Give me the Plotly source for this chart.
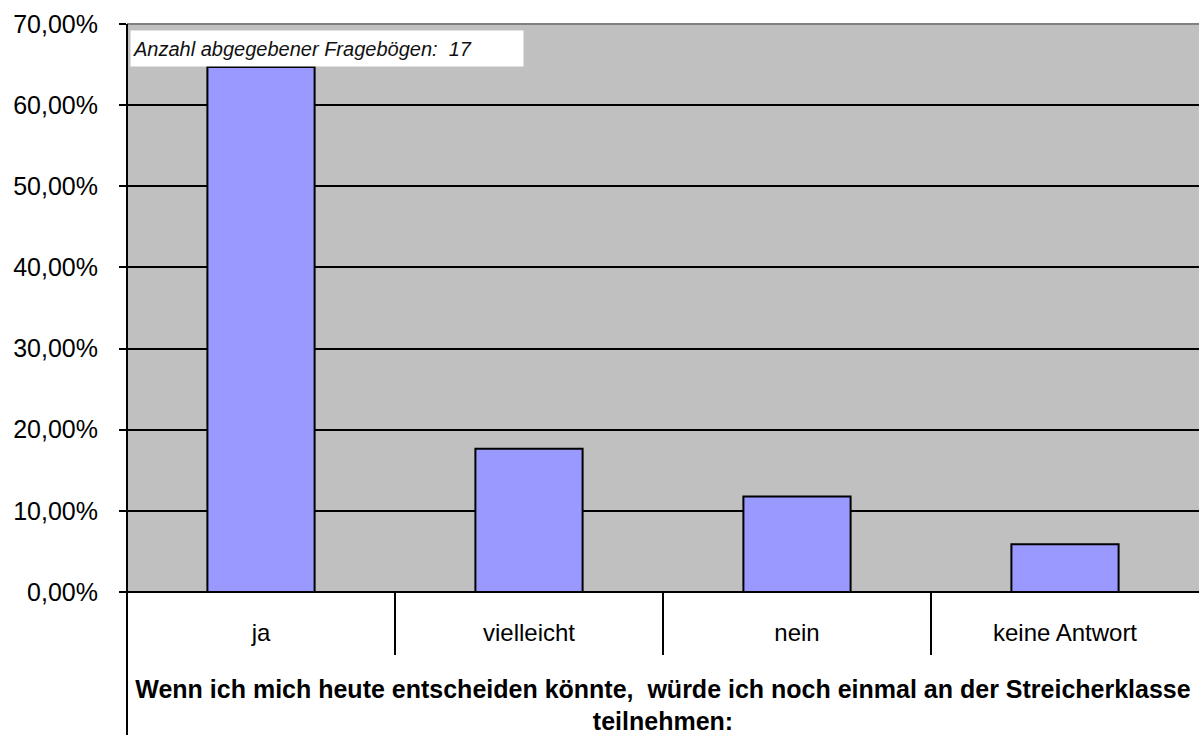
import plotly.graph_objects as go

categories = ["ja", "vielleicht", "nein", "keine Antwort"]
values = [0.6471, 0.1765, 0.1176, 0.0588]
y_ticks = [0, 0.1, 0.2, 0.3, 0.4, 0.5, 0.6, 0.7]
note_text = "Anzahl abgegebener Fragebögen:  17"
x_title = "Wenn ich mich heute entscheiden könnte,  würde ich noch einmal an der Streicherklasse<br>teilnehmen:"

W, H = 1199, 735
L, R, T, B = 127, 0, 24, 143
plot_h = H - T - B

fig = go.Figure()
fig.add_trace(go.Bar(
    x=categories, y=values, width=0.4,
    marker=dict(color="#9999FF", line=dict(color="black", width=2)),
))

font_family = "Liberation Sans, Arial, sans-serif"

fig.update_layout(
    width=W, height=H,
    margin=dict(l=L, r=R, t=T, b=B, pad=0),
    paper_bgcolor="white", plot_bgcolor="#C0C0C0",
    separators=",.",
    showlegend=False,
    font=dict(family=font_family, color="black"),
    xaxis=dict(
        type="category", range=[-0.5, 3.5],
        showgrid=False, showline=False, zeroline=False, ticks="",
        tickfont=dict(size=24, family=font_family, color="black"),
        ticklabelstandoff=24,
        title=dict(text="<b>" + x_title + "</b>", font=dict(size=25, family=font_family, color="black"), standoff=37),
    ),
    yaxis=dict(
        range=[0, 0.7], tickvals=y_ticks, tickformat=".2%",
        showgrid=True, gridcolor="black", gridwidth=2,
        zeroline=True, zerolinecolor="black", zerolinewidth=2,
        showline=False,
        ticks="outside", ticklen=7, tickwidth=2, tickcolor="black",
        tickfont=dict(size=25, family=font_family, color="black"),
        ticklabelstandoff=16,
    ),
)

# top border of plot area (gray)
fig.add_shape(type="line", xref="paper", yref="paper", x0=0, x1=1, y0=1, y1=1,
              line=dict(color="#808080", width=2), layer="above")
# left axis line extending to bottom of figure
fig.add_shape(type="line", xref="paper", yref="paper", x0=0, x1=0, y0=-B / plot_h, y1=1,
              line=dict(color="black", width=2), layer="above")
# category dividers below the axis
for i in range(len(categories) - 1):
    fig.add_shape(type="line", xref="x", yref="paper", x0=i + 0.5, x1=i + 0.5,
                  y0=-63 / plot_h, y1=0, line=dict(color="black", width=2), layer="above")

# note box
fig.add_annotation(
    xref="paper", yref="paper", x=3 / (W - L - R), y=1 - 6 / plot_h,
    xanchor="left", yanchor="top", showarrow=False,
    text="<i>" + note_text + "</i>", align="left",
    font=dict(size=20, family=font_family, color="#111111"),
    bgcolor="white", width=388, height=31, borderpad=2,
)

fig.write_html("out.html", config={"displayModeBar": False},
               post_script="document.body.style.margin='0';")
